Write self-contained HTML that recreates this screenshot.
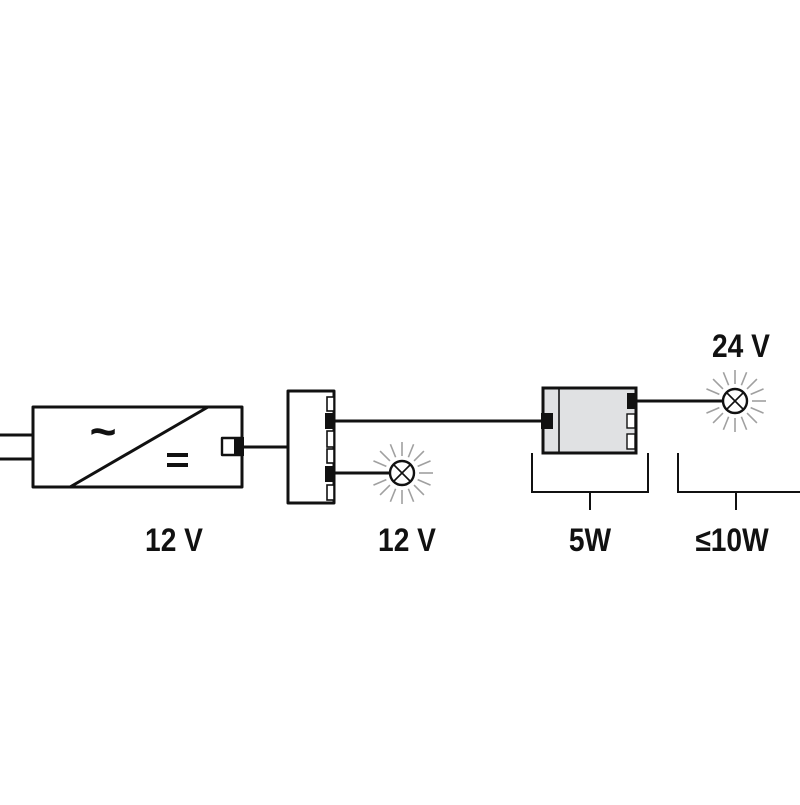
<!DOCTYPE html>
<html><head><style>
html,body{margin:0;padding:0;background:#fff}
</style></head><body>
<svg width="800" height="800" viewBox="0 0 800 800" xmlns="http://www.w3.org/2000/svg">
<defs>
<g id="rays" stroke="#a0a0a0" stroke-width="1.6">
<line x1="0" y1="-17" x2="0" y2="-31" transform="rotate(0)"/>
<line x1="0" y1="-17" x2="0" y2="-31" transform="rotate(22)"/>
<line x1="0" y1="-17" x2="0" y2="-31" transform="rotate(45)"/>
<line x1="0" y1="-17" x2="0" y2="-31" transform="rotate(67)"/>
<line x1="0" y1="-17" x2="0" y2="-31" transform="rotate(90)"/>
<line x1="0" y1="-17" x2="0" y2="-31" transform="rotate(113)"/>
<line x1="0" y1="-17" x2="0" y2="-31" transform="rotate(135)"/>
<line x1="0" y1="-17" x2="0" y2="-31" transform="rotate(158)"/>
<line x1="0" y1="-17" x2="0" y2="-31" transform="rotate(180)"/>
<line x1="0" y1="-17" x2="0" y2="-31" transform="rotate(202)"/>
<line x1="0" y1="-17" x2="0" y2="-31" transform="rotate(225)"/>
<line x1="0" y1="-17" x2="0" y2="-31" transform="rotate(247)"/>
<line x1="0" y1="-17" x2="0" y2="-31" transform="rotate(293)"/>
<line x1="0" y1="-17" x2="0" y2="-31" transform="rotate(315)"/>
<line x1="0" y1="-17" x2="0" y2="-31" transform="rotate(338)"/>
</g>
<g id="lamp">
<use href="#rays"/>
<circle r="12" fill="#fff" stroke="#111" stroke-width="2.4"/>
<line x1="-8" y1="-8" x2="8" y2="8" stroke="#111" stroke-width="1.6"/>
<line x1="8" y1="-8" x2="-8" y2="8" stroke="#111" stroke-width="1.6"/>
</g>
</defs>
<g fill="none" stroke="#111" stroke-width="3" stroke-linejoin="round">
<line x1="0" y1="435" x2="33" y2="435"/>
<line x1="0" y1="459" x2="33" y2="459"/>
<rect x="33" y="407" width="209" height="80"/>
<line x1="70" y1="487" x2="208" y2="407"/>
<rect x="222" y="438" width="20" height="17" stroke-width="2.4"/>
<line x1="244" y1="447" x2="288" y2="447"/>
<rect x="288" y="391" width="46" height="112"/>
<line x1="334" y1="421" x2="543" y2="421"/>
<line x1="334" y1="473" x2="390" y2="473"/>
</g>
<rect x="234" y="437" width="10" height="19" fill="#111"/>
<g fill="#fff" stroke="#111" stroke-width="1.6">
<rect x="327" y="397" width="7" height="14"/>
<rect x="327" y="431" width="7" height="16"/>
<rect x="327" y="449" width="7" height="14"/>
<rect x="327" y="485" width="7" height="15"/>
</g>
<rect x="325" y="413" width="10" height="16" fill="#111"/>
<rect x="325" y="466" width="10" height="16" fill="#111"/>
<text x="103" y="447" font-family="Liberation Sans, sans-serif" font-size="46" font-weight="bold" fill="#111" text-anchor="middle">~</text>
<rect x="167" y="453" width="21" height="4" fill="#111"/>
<rect x="167" y="463" width="21" height="4" fill="#111"/>
<rect x="543" y="388" width="93" height="65" fill="#e0e1e3" stroke="#111" stroke-width="3"/>
<line x1="559" y1="389" x2="559" y2="452" stroke="#111" stroke-width="1.6"/>
<rect x="541" y="413" width="12" height="16" fill="#111"/>
<rect x="627" y="393" width="10" height="16" fill="#111"/>
<rect x="627" y="414" width="8" height="14" fill="#fff" stroke="#111" stroke-width="1.4"/>
<rect x="627" y="434" width="8" height="15" fill="#fff" stroke="#111" stroke-width="1.4"/>
<line x1="637" y1="401" x2="722" y2="401" stroke="#111" stroke-width="3"/>
<use href="#lamp" x="402" y="473"/>
<use href="#lamp" x="735" y="401"/>
<g fill="none" stroke="#111" stroke-width="2">
<polyline points="532,453 532,492 648,492 648,453"/>
<line x1="590" y1="492" x2="590" y2="510"/>
<polyline points="678,453 678,492 800,492"/>
<line x1="736" y1="492" x2="736" y2="510"/>
</g>
<g font-family="Liberation Sans, sans-serif" font-size="32" font-weight="bold" fill="#111" text-anchor="middle">
<text x="174" y="551" transform="translate(174 0) scale(0.88 1) translate(-174 0)">12 V</text>
<text x="407" y="551" transform="translate(407 0) scale(0.88 1) translate(-407 0)">12 V</text>
<text x="590" y="551" transform="translate(590 0) scale(0.88 1) translate(-590 0)">5W</text>
<text x="732" y="551" transform="translate(732 0) scale(0.88 1) translate(-732 0)">≤10W</text>
<text x="741" y="357" transform="translate(741 0) scale(0.88 1) translate(-741 0)">24 V</text>
</g>
</svg>
</body></html>
